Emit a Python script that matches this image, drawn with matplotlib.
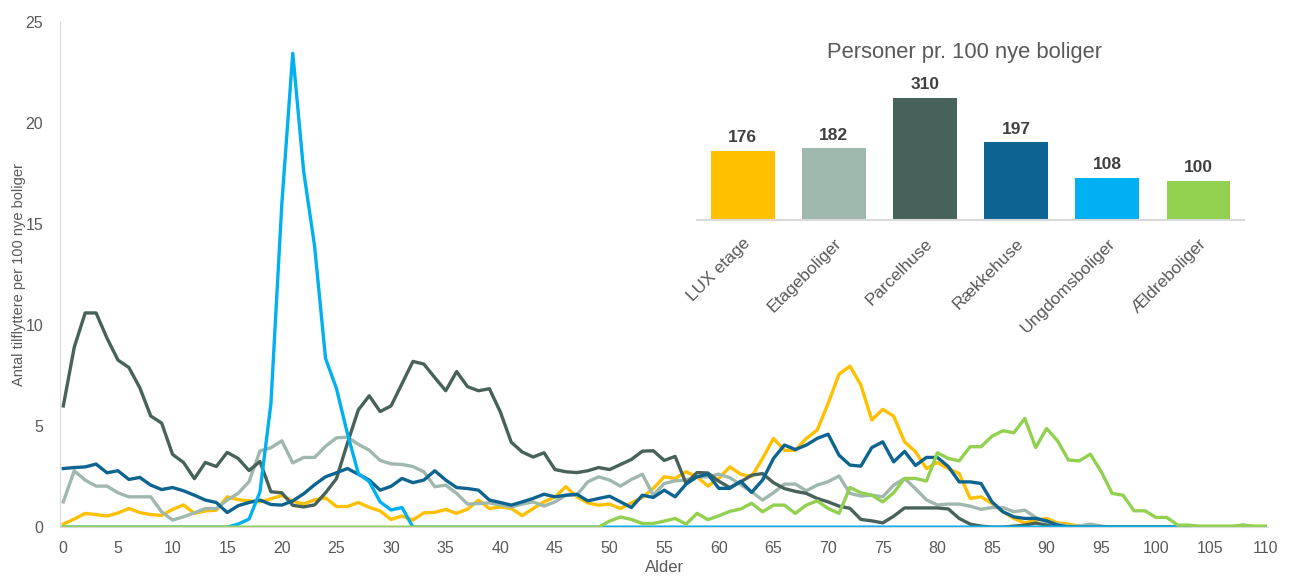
import matplotlib.pyplot as plt
import numpy as np

# === DATA ===
ages = np.arange(0, 111)

lux_etage = [0.15, 0.4, 0.68, 0.62, 0.55, 0.7, 0.92, 0.72, 0.62, 0.58,
             0.88, 1.1, 0.68, 0.8, 0.84, 1.5, 1.36, 1.3, 1.25, 1.4,
             1.57, 1.28, 1.15, 1.35, 1.45, 1.02, 1.02, 1.22, 0.98, 0.8,
             0.38, 0.55, 0.35, 0.71, 0.73, 0.88, 0.68, 0.89, 1.34, 0.92,
             1.0, 0.92, 0.57, 0.92, 1.25, 1.5, 2.0, 1.5, 1.2, 1.09,
             1.14, 0.92, 1.2, 1.47, 1.92, 2.49, 2.41, 2.74, 2.49, 2.03,
             2.41, 2.98, 2.62, 2.5, 3.4, 4.39, 3.8, 3.8, 4.39, 4.8,
             6.12, 7.57, 7.97, 7.03, 5.3, 5.83, 5.49, 4.22, 3.73, 2.9,
             3.2, 2.9, 2.65, 1.42, 1.5, 1.17, 0.76, 0.43, 0.21, 0.34,
             0.43, 0.21, 0.15, 0.05] + [0] * 17

etageboliger = [1.25, 2.79, 2.33, 2.03, 2.03, 1.7, 1.5, 1.5, 1.5, 0.76,
                0.35, 0.51, 0.71, 0.92, 0.92, 1.34, 1.67, 2.25, 3.77, 3.93,
                4.27, 3.18, 3.45, 3.45, 4.0, 4.42, 4.45, 4.1, 3.81, 3.3,
                3.13, 3.1, 3.0, 2.74, 2.0, 2.08, 1.67, 1.14, 1.17, 1.2,
                1.1, 1.0, 1.14, 1.25, 1.04, 1.25, 1.58, 1.58, 2.24, 2.49,
                2.33, 2.03, 2.36, 2.62, 1.58, 2.16, 2.29, 2.33, 2.49, 2.49,
                2.62, 2.45, 2.1, 1.75, 1.34, 1.7, 2.13, 2.13, 1.8, 2.08,
                2.25, 2.53, 1.67, 1.54, 1.58, 1.5, 2.08, 2.41, 1.9, 1.35,
                1.1, 1.14, 1.14, 1.04, 0.88, 0.97, 0.97, 0.76, 0.84, 0.48,
                0.26, 0.15, 0.05, 0.05, 0.15, 0.05, 0, 0, 0, 0,
                0, 0, 0, 0, 0, 0, 0, 0, 0.1, 0, 0]

parcelhuse = [6.0, 8.9, 10.6, 10.6, 9.35, 8.27, 7.9, 6.9, 5.5, 5.15,
              3.6, 3.2, 2.4, 3.2, 3.0, 3.7, 3.4, 2.8, 3.25, 1.75,
              1.7, 1.08, 1.0, 1.1, 1.7, 2.4, 4.15, 5.8, 6.5, 5.72,
              6.0, 7.1, 8.2, 8.07, 7.4, 6.75, 7.7, 6.95, 6.75, 6.85,
              5.7, 4.2, 3.72, 3.47, 3.68, 2.85, 2.74, 2.7, 2.79, 2.95,
              2.85, 3.1, 3.35, 3.76, 3.78, 3.3, 3.5, 2.16, 2.7, 2.68,
              2.27, 1.96, 2.24, 2.57, 2.65, 2.2, 1.91, 1.77, 1.67, 1.42,
              1.25, 1.04, 0.93, 0.38, 0.31, 0.21, 0.54, 0.95, 0.95, 0.95,
              0.95, 0.9, 0.43, 0.15, 0.05, 0, 0, 0.05, 0.1, 0.2,
              0.1] + [0] * 20

raekkehuse = [2.9, 2.95, 2.98, 3.12, 2.69, 2.79, 2.36, 2.46, 2.08, 1.86,
              1.96, 1.8, 1.58, 1.34, 1.22, 0.72, 1.06, 1.22, 1.34, 1.12,
              1.09, 1.3, 1.65, 2.1, 2.49, 2.69, 2.9, 2.62, 2.33, 1.83,
              2.02, 2.41, 2.2, 2.33, 2.79, 2.33, 1.96, 1.91, 1.83, 1.34,
              1.22, 1.09, 1.25, 1.42, 1.63, 1.5, 1.58, 1.63, 1.3, 1.42,
              1.53, 1.25, 0.97, 1.58, 1.47, 1.83, 1.5, 2.13, 2.49, 2.62,
              1.92, 1.92, 2.27, 1.72, 2.33, 3.4, 4.06, 3.84, 4.06, 4.39,
              4.6, 3.56, 3.07, 3.02, 3.94, 4.22, 3.23, 3.75, 3.05, 3.45,
              3.45, 3.0, 2.24, 2.24, 2.16, 1.25, 0.76, 0.51, 0.43, 0.43,
              0.31, 0.1] + [0] * 19

ungdomsboliger = [0] * 16 + [0.15, 0.4, 1.75, 6.1,
                             16.0, 23.45, 17.6, 13.9, 8.35, 6.86, 4.64, 2.66, 2.25, 1.25,
                             0.85, 0.97] + [0] * 79

aeldreboliger = [0] * 50 + [0.3, 0.5, 0.38, 0.18, 0.18, 0.3, 0.43, 0.15, 0.68, 0.37,
                            0.56, 0.78, 0.9, 1.18, 0.76, 1.09, 1.09, 0.68, 1.09, 1.3,
                            0.92, 0.68, 1.96, 1.7, 1.58, 1.25, 1.7, 2.41, 2.41, 2.28,
                            3.68, 3.4, 3.28, 3.98, 3.98, 4.5, 4.77, 4.67, 5.38, 3.94,
                            4.88, 4.27, 3.32, 3.28, 3.61, 2.74, 1.67, 1.58, 0.81, 0.81,
                            0.48, 0.48, 0.1, 0.1, 0.05, 0.05, 0.05, 0.05, 0.1, 0.05,
                            0.05]

categories = ["LUX etage", "Etageboliger", "Parcelhuse", "Rækkehuse", "Ungdomsboliger", "Ældreboliger"]
persons_per_100 = [176, 182, 310, 197, 108, 100]
colors = ["#FFC000", "#9FB8AE", "#47625A", "#0E6491", "#00B0F0", "#92D050"]

series = [lux_etage, etageboliger, parcelhuse, raekkehuse, ungdomsboliger, aeldreboliger]

# === PLOT ===
plt.rcParams['font.family'] = ['Liberation Sans', 'DejaVu Sans']
text_color = "#595959"

fig = plt.figure(figsize=(12.91, 5.78), dpi=100)
ax = fig.add_axes([0.0465, 0.088, 0.936, 0.874])

for values, color in zip(series, colors):
    ax.plot(ages, values, color=color, linewidth=2.4, solid_joinstyle='round')

ax.set_xlim(-0.3, 110.3)
ax.set_ylim(0, 25)
ax.set_xticks(np.arange(0, 111, 5))
ax.set_yticks(np.arange(0, 26, 5))
ax.tick_params(length=0, labelsize=11.5, labelcolor=text_color)
ax.tick_params(axis='x', pad=10)
ax.tick_params(axis='y', pad=12)
for side in ["top", "right"]:
    ax.spines[side].set_visible(False)
for side in ["left", "bottom"]:
    ax.spines[side].set_color("#D9D9D9")
ax.set_xlabel("Alder", fontsize=12, color=text_color, labelpad=3)
ax.set_ylabel("Antal tilflyttere per 100 nye boliger", fontsize=10.5, color=text_color, labelpad=0)

# inset bar chart
inset = fig.add_axes([0.540, 0.619, 0.4237, 0.26])
x = np.arange(len(categories))
inset.bar(x, persons_per_100, width=0.70, color=colors)
for xi, v in zip(x, persons_per_100):
    inset.text(xi, v + 14, str(v), ha='center', va='bottom', fontsize=12.5,
               fontweight='bold', color="#404040")
inset.set_xlim(-0.5, 5.5)
inset.set_ylim(0, 380)
inset.set_yticks([])
inset.set_xticks(x)
inset.set_xticklabels(categories, rotation=45, ha='right', rotation_mode='anchor',
                      fontsize=12.5, color=text_color)
inset.tick_params(length=0, pad=11)
for side in ["top", "right", "left"]:
    inset.spines[side].set_visible(False)
inset.spines["bottom"].set_color("#D9D9D9")
inset.spines["bottom"].set_linewidth(1.5)
inset.patch.set_alpha(0)
fig.text(0.747, 0.91, "Personer pr. 100 nye boliger", ha='center', va='center',
         fontsize=15.8, color=text_color)

plt.savefig("out.png", dpi=100)
plt.close()
